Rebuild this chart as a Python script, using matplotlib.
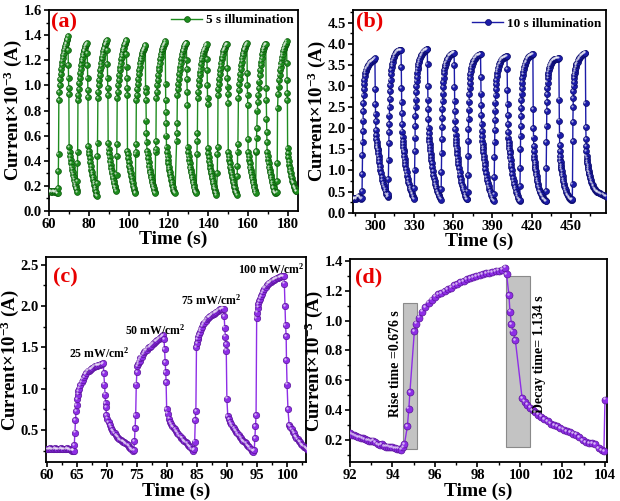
import numpy as np
import matplotlib
matplotlib.use("Agg")
from matplotlib import pyplot as plt
from matplotlib import transforms as mtransforms
from matplotlib.patches import Rectangle
from matplotlib.ticker import MultipleLocator, AutoMinorLocator

plt.rcParams['font.family'] = ['Liberation Serif', 'DejaVu Serif']
plt.rcParams['font.weight'] = 'bold'
plt.rcParams['axes.labelweight'] = 'bold'
plt.rcParams['mathtext.fontset'] = 'custom'
plt.rcParams['mathtext.rm'] = 'Liberation Serif:bold'
plt.rcParams['mathtext.bf'] = 'Liberation Serif:bold'
plt.rcParams['mathtext.it'] = 'Liberation Serif:bold:italic'

YLABEL = 'Current×10$^{-3}$ (A)'

# ---------------- (a) 5 s illumination (current in 1e-5 A units, i.e. x0.01 mA) ----
a_base_t = [60.0, 60.4, 60.8, 61.2, 61.6, 62.0, 62.4, 62.8, 63.2, 63.6, 64.0, 64.3]
a_base_i = [16, 16, 15, 16, 15, 16, 16, 15, 15, 16, 14, 14]
a_on = [64.6, 74.2, 84.2, 93.9, 103.5, 113.5, 124.1, 134.3, 144.5, 154.5, 164.0, 174.4]
# sample times inside one on/off cycle, seconds after light on
a_offs = [0.0, 0.1, 0.2, 0.35, 0.6, 0.85, 1.1, 1.35, 1.6, 1.85, 2.1, 2.35, 2.6, 2.85,
          3.1, 3.35, 3.6, 3.85, 4.1, 4.35, 4.6, 4.85, 5.0, 5.1, 5.2, 5.3, 5.4, 5.5,
          5.75, 6.0, 6.25, 6.5, 6.75, 7.0, 7.25, 7.5, 7.75, 8.0, 8.25, 8.5, 8.75,
          9.0, 9.25, 9.5, 9.75]
a_cycles = [
    [18, 32, 45, 88, 95, 100, 105, 109, 113, 116, 119, 122, 124, 126, 128, 130, 131, 133, 134, 136, 137, 139,
     128, 116, 106, 98, 93, 51, 47, 44, 41, 38, 35, 33, 31, 29, 27, 25, 23, 21, 20, 18, 17, 15, 14],
    [24, 38, 47, 88, 92, 97, 102, 106, 110, 113, 116, 119, 121, 123, 125, 127, 128, 130, 131, 132, 133, 134,
     126, 116, 106, 96, 91, 52, 48, 45, 42, 39, 36, 33, 31, 29, 27, 25, 23, 21, 19, 17, 15, 13, 12],
    [22, 44, 54, 90, 95, 100, 104, 108, 112, 115, 118, 121, 123, 125, 127, 129, 130, 132, 133, 134, 135, 136,
     128, 117, 106, 98, 92, 54, 49, 46, 43, 40, 37, 34, 32, 30, 28, 26, 24, 22, 20, 19, 17, 16, 15],
    [29, 44, 53, 90, 95, 100, 104, 108, 112, 115, 118, 121, 123, 125, 127, 129, 130, 132, 133, 134, 135, 136,
     125, 115, 106, 98, 92, 48, 45, 42, 39, 36, 34, 32, 30, 28, 26, 24, 22, 20, 18, 17, 15, 14, 13],
    [45, 47, 53, 88, 92, 97, 101, 105, 109, 112, 115, 118, 120, 122, 124, 126, 127, 128, 129, 130, 131, 132,
     98, 95, 88, 72, 62, 55, 48, 45, 42, 39, 36, 33, 31, 29, 27, 25, 23, 21, 20, 18, 17, 15, 14],
    [47, 49, 56, 90, 95, 100, 104, 108, 112, 115, 118, 121, 123, 125, 127, 129, 130, 131, 132, 133, 134, 135,
     101, 88, 79, 70, 60, 51, 47, 44, 41, 38, 35, 33, 31, 29, 27, 25, 23, 21, 19, 17, 16, 15, 14],
    [56, 62, 70, 92, 97, 101, 105, 109, 112, 115, 118, 121, 123, 125, 127, 128, 130, 131, 132, 133, 134, 134,
     120, 113, 105, 95, 84, 51, 47, 44, 41, 38, 35, 33, 31, 29, 27, 25, 23, 21, 19, 17, 16, 15, 14],
    [45, 56, 62, 90, 95, 100, 104, 108, 111, 114, 117, 120, 122, 124, 126, 127, 128, 129, 130, 131, 132, 133,
     121, 112, 100, 90, 85, 50, 46, 43, 40, 37, 34, 32, 30, 28, 26, 24, 22, 20, 18, 17, 15, 14, 13],
    [30, 45, 51, 92, 97, 101, 105, 109, 112, 115, 118, 121, 123, 125, 127, 128, 129, 130, 131, 132, 133, 133,
     114, 106, 99, 93, 86, 47, 44, 41, 38, 35, 33, 31, 29, 27, 25, 23, 21, 19, 18, 16, 15, 14, 13],
    [28, 36, 47, 53, 90, 96, 101, 105, 109, 113, 116, 119, 122, 124, 126, 128, 129, 130, 131, 132, 133, 134,
     110, 100, 92, 84, 57, 47, 44, 41, 38, 35, 33, 31, 29, 27, 25, 23, 21, 19, 17, 16, 14, 13, 12],
    [47, 48, 58, 66, 80, 87, 92, 98, 103, 108, 112, 116, 119, 122, 125, 127, 129, 130, 131, 132, 133, 133,
     98, 88, 73, 63, 55, 47, 44, 41, 38, 35, 33, 31, 29, 27, 25, 23, 21, 19, 18, 16, 15, 14, 14],
    [15, 24, 38, 82, 93, 99, 104, 108, 112, 115, 118, 121, 123, 125, 127, 129, 130, 131, 132, 133, 134, 135,
     118, 104, 94, 88, 50, 46, 43, 40, 37, 34, 32, 30, 28, 26, 24, 23, 22, 20, 19, 18, 17, 16, 16],
]

# ---------------- (b) 10 s illumination ----------------
b_base_t = [283.0, 283.5, 284.0, 284.5, 285.0, 285.5, 286.0, 286.5, 287.0, 287.5, 288.0, 288.5, 289.0, 289.5]
b_base_i = [33, 33, 34, 33, 34, 33, 35, 36, 38, 40, 38, 36, 34, 33]
b_on = [290.0, 310.0, 330.1, 350.6, 370.9, 391.1, 411.0, 430.9, 451.2]
b_offs = [0.0, 0.15, 0.3, 0.45, 0.6, 0.75, 0.9, 1.05, 1.2, 1.4, 1.6, 1.8, 2.0, 2.3, 2.6, 2.9,
          3.2, 3.6, 4.0, 4.5, 5.0, 5.5, 6.0, 6.5, 7.0, 7.5, 8.0, 8.5, 9.0, 9.5, 10.0,
          10.2, 10.35, 10.5, 10.65, 10.8, 11.0, 11.2, 11.4, 11.6, 11.8, 12.0, 12.2, 12.5, 12.8,
          13.1, 13.4, 13.8, 14.2, 14.7, 15.2, 15.7, 16.2, 16.7, 17.2, 17.7, 18.2, 18.7, 19.2, 19.7]
b_cycles = [
    [35, 52, 91, 137, 168, 193, 218, 240, 260, 278, 292, 304, 314, 324, 330, 335, 339, 342, 345, 348,
     350, 352, 354, 356, 357, 359, 360, 361, 362, 364, 366,
     293, 258, 233, 217, 195, 184, 175, 167, 161, 156, 152, 148, 141, 134, 127, 120, 111, 102, 93, 85,
     78, 71, 65, 60, 55, 50, 45, 41, 37],
    [40, 45, 80, 125, 165, 190, 210, 230, 250, 270, 288, 302, 315, 328, 338, 346, 352, 358, 363, 368,
     372, 375, 378, 380, 382, 383, 384, 385, 386, 386, 386,
     345, 295, 262, 235, 210, 192, 180, 170, 162, 155, 149, 143, 135, 127, 120, 113, 104, 96, 88, 80,
     73, 67, 61, 56, 51, 47, 43, 39, 35],
    [33, 58, 100, 145, 178, 205, 228, 250, 268, 285, 300, 312, 322, 332, 340, 346, 351, 356, 361, 366,
     370, 373, 376, 379, 381, 383, 384, 385, 386, 387, 387,
     352, 300, 268, 245, 222, 200, 188, 178, 170, 162, 155, 149, 140, 132, 124, 117, 108, 99, 90, 82,
     75, 68, 62, 57, 52, 47, 43, 39, 34],
    [31, 55, 97, 142, 175, 202, 225, 246, 265, 282, 297, 309, 320, 330, 338, 344, 349, 353, 357, 361,
     364, 367, 370, 372, 374, 375, 376, 377, 378, 379, 379,
     350, 297, 264, 240, 218, 198, 185, 175, 167, 160, 153, 147, 138, 130, 122, 115, 106, 97, 88, 80,
     73, 66, 60, 55, 50, 45, 40, 36, 32],
    [32, 50, 90, 135, 170, 198, 222, 244, 263, 280, 295, 307, 318, 328, 336, 342, 347, 351, 355, 359,
     362, 365, 367, 369, 371, 372, 373, 374, 374, 375, 375,
     322, 282, 255, 232, 210, 193, 181, 171, 163, 156, 150, 144, 135, 127, 119, 112, 103, 94, 85, 77,
     70, 63, 57, 51, 46, 41, 37, 33, 30],
    [28, 45, 85, 132, 168, 196, 220, 242, 261, 278, 292, 304, 315, 324, 332, 338, 343, 347, 351, 355,
     358, 361, 363, 365, 366, 367, 368, 369, 369, 370, 370,
     340, 290, 258, 232, 210, 190, 178, 168, 160, 153, 147, 141, 132, 124, 116, 109, 100, 91, 82, 74,
     67, 61, 55, 49, 44, 39, 35, 31, 28],
    [30, 63, 105, 150, 182, 206, 228, 248, 266, 282, 296, 308, 318, 327, 334, 340, 345, 349, 353, 357,
     360, 363, 366, 368, 370, 371, 372, 373, 374, 375, 375,
     245, 200, 178, 158, 145, 135, 127, 120, 114, 108, 103, 98, 92, 86, 80, 75, 69, 63, 57, 52,
     48, 44, 41, 38, 35, 33, 31, 29, 27],
    [27, 52, 105, 168, 205, 240, 262, 280, 295, 308, 318, 326, 332, 338, 342, 346, 349, 352, 355, 357,
     359, 361, 362, 363, 364, 364, 365, 365, 365, 366, 366,
     268, 218, 185, 160, 145, 134, 126, 119, 113, 108, 103, 98, 92, 86, 80, 75, 69, 63, 58, 53,
     49, 45, 42, 39, 36, 34, 32, 31, 30],
    [32, 68, 170, 215, 250, 272, 288, 300, 310, 318, 325, 331, 336, 341, 345, 349, 352, 355, 358, 361,
     364, 366, 368, 370, 372, 374, 375, 376, 377, 378, 379,
     259, 202, 175, 157, 145, 135, 128, 122, 117, 112, 108, 104, 99, 95, 91, 87, 82, 78, 73, 69,
     65, 62, 59, 56, 54, 52, 50, 49, 48],
]
b_tail_t = [471.5, 472.5, 473.5, 474.5, 475.5, 476.5, 477.5]
b_tail_i = [47, 46, 44, 43, 41, 40, 38]

# ---------------- (c) intensity dependence ----------------
c_base_t = [60.0, 60.2, 60.4, 60.6, 60.8, 61.0, 61.2, 61.4, 61.6, 61.8, 62.0, 62.2, 62.4,
            62.6, 62.8, 63.0, 63.2, 63.4, 63.6, 63.8, 64.0, 64.2, 64.4]
c_base_i = [27, 27, 27, 28, 27, 27, 27, 28, 27, 27, 27, 27, 28, 27, 27, 27, 27, 28, 27, 27, 26, 25, 25]
c_on = [64.5, 74.5, 84.5, 94.5]
c_off = [69.5, 79.5, 89.5, 99.5]
c_rise_offs = [0.0, 0.1, 0.2, 0.3, 0.4, 0.5, 0.6, 0.7, 0.8, 0.95, 1.1, 1.3, 1.5, 1.7, 1.9, 2.1,
               2.3, 2.5, 2.7, 2.9, 3.1, 3.3, 3.5, 3.7, 3.9, 4.1, 4.3, 4.5, 4.7, 4.9]
c_fall_offs = [0.0, 0.1, 0.2, 0.3, 0.35, 0.45, 0.6, 0.8, 1.0, 1.2, 1.4, 1.6, 1.8, 2.0, 2.2,
               2.4, 2.6, 2.8, 3.0, 3.2, 3.4, 3.6, 3.8, 4.0, 4.2, 4.4, 4.6, 4.8, 5.0]
c_rise = [
    [25, 32, 47, 62, 73, 80, 87, 93, 97, 100, 104, 108, 111, 114, 117, 119, 121, 122, 123, 124,
     125, 126, 127, 128, 128, 129, 129, 130, 130, 131],
    [26, 37, 52, 68, 105, 120, 127, 130, 132, 134, 137, 139, 142, 144, 146, 147, 149, 150, 151, 152,
     154, 155, 157, 158, 159, 160, 161, 162, 164, 165],
    [27, 36, 62, 73, 150, 155, 160, 163, 166, 169, 172, 175, 178, 180, 182, 184, 186, 187, 188, 189,
     190, 191, 192, 193, 194, 195, 196, 196, 197, 197],
    [26, 40, 55, 68, 185, 192, 198, 202, 206, 209, 212, 215, 218, 221, 223, 225, 227, 228, 229, 230,
     231, 232, 233, 234, 234, 235, 235, 236, 236, 236],
]
c_fall = [
    [119, 105, 93, 83, 78, 68, 64, 60, 56, 53, 50, 48, 46, 44, 42, 41, 39, 38, 37, 36, 35, 34, 33,
     32, 30, 28, 27, 25, 25],
    [160, 148, 132, 120, 108, 75, 70, 64, 60, 57, 55, 53, 51, 49, 47, 45, 43, 41, 40, 38, 37, 35, 34,
     32, 31, 29, 27, 25, 24],
    [188, 174, 163, 154, 146, 88, 67, 63, 60, 57, 54, 52, 50, 48, 46, 44, 42, 40, 38, 37, 35, 34, 32,
     31, 29, 27, 25, 24, 23],
    [227, 200, 177, 164, 135, 105, 75, 56, 54, 51, 48, 46, 43, 41, 39, 37, 35, 33, 32, 30, 29, 28, 27,
     26, 25, 25, 24, 24, 23],
]
c_labels = ['25 mW/cm$^{2}$', '50 mW/cm$^{2}$', '75 mW/cm$^{2}$', '100 mW/cm$^{2}$']
c_label_t = [68.8, 78.1, 87.4, 97.3]
c_label_i = [1.43, 1.71, 2.07, 2.44]

# ---------------- (d) rise / decay of one pulse ----------------
d_time = [92.0, 92.1, 92.2, 92.3, 92.4, 92.5, 92.6, 92.7, 92.8, 92.9, 93.0, 93.1, 93.2, 93.3,
          93.4, 93.5, 93.6, 93.7, 93.8, 93.9, 94.0, 94.1, 94.2, 94.3, 94.4,
          94.5, 94.56, 94.7, 94.77, 94.82, 95.03, 95.13,
          95.25, 95.4, 95.55, 95.7, 95.85, 96.0, 96.15, 96.3, 96.45, 96.6, 96.75, 96.9, 97.05,
          97.2, 97.35, 97.5, 97.65, 97.8, 97.95, 98.1, 98.25, 98.4, 98.55, 98.7, 98.85, 99.0,
          99.15, 99.3,
          99.37, 99.48, 99.53, 99.6, 99.66, 99.78,
          100.1, 100.22, 100.35, 100.48, 100.6, 100.72, 100.85, 101.0, 101.15, 101.3, 101.45,
          101.6, 101.75, 101.9, 102.05, 102.2, 102.35, 102.5, 102.65, 102.8, 102.95, 103.1,
          103.25, 103.4, 103.55, 103.7, 103.85, 103.95, 104.0]
d_curr = [0.245, 0.235, 0.23, 0.225, 0.22, 0.215, 0.21, 0.205, 0.20, 0.195, 0.19, 0.195, 0.185,
          0.17, 0.165, 0.17, 0.16, 0.155, 0.155, 0.15, 0.15, 0.145, 0.14, 0.14, 0.135,
          0.15, 0.17, 0.29, 0.41, 0.52, 0.93, 0.98,
          1.02, 1.06, 1.09, 1.12, 1.14, 1.16, 1.175, 1.185, 1.195, 1.21, 1.22, 1.235, 1.245,
          1.255, 1.265, 1.275, 1.285, 1.29, 1.295, 1.305, 1.31, 1.315, 1.32, 1.325, 1.33, 1.335,
          1.34, 1.355,
          1.31, 1.17, 1.06, 0.975, 0.925, 0.87,
          0.48, 0.455, 0.435, 0.415, 0.40, 0.385, 0.37, 0.355, 0.34, 0.325, 0.31,
          0.30, 0.29, 0.28, 0.268, 0.258, 0.25, 0.242, 0.235, 0.22, 0.20, 0.185,
          0.18, 0.178, 0.17, 0.145, 0.13, 0.125, 0.47]
rise_window = (94.5, 0.14, 0.676, 0.98)     # t0, I0, width (s), height
decay_window = (99.35, 0.155, 1.134, 1.145)


def cycles_to_series(base_t, base_i, starts, offsets, cycles):
    t, cur = list(base_t), list(base_i)
    for k, (t0, vals) in enumerate(zip(starts, cycles)):
        nxt = starts[k + 1] if k + 1 < len(starts) else np.inf
        for dt, v in zip(offsets, vals):
            if t0 + dt < nxt:
                t.append(t0 + dt)
                cur.append(v)
    return np.array(t), np.array(cur) / 100.0


def pulses_to_series():
    t, cur = list(c_base_t), list(c_base_i)
    for k in range(len(c_on)):
        nxt = c_on[k + 1] if k + 1 < len(c_on) else np.inf
        for dt, v in zip(c_rise_offs, c_rise[k]):
            t.append(c_on[k] + dt)
            cur.append(v)
        for dt, v in zip(c_fall_offs, c_fall[k]):
            if c_off[k] + dt < nxt:
                t.append(c_off[k] + dt)
                cur.append(v)
    return np.array(t), np.array(cur) / 100.0


fig = plt.figure(figsize=(6.2, 5.01), dpi=100)
ax_a = fig.add_axes([0.0790, 0.5788, 0.4016, 0.4012])
ax_b = fig.add_axes([0.5689, 0.5754, 0.4085, 0.4046])
ax_c = fig.add_axes([0.0737, 0.0772, 0.4194, 0.4092])
ax_d = fig.add_axes([0.5645, 0.0772, 0.4140, 0.4052])


def draw(ax, t, cur, face, edge, ms, label=None):
    ax.plot(t, cur, color=face, lw=1.0, marker='o', ms=ms, mfc=face, mec=edge,
            mew=0.5, label=label, zorder=3)
    shine = mtransforms.offset_copy(ax.transData, fig=fig, x=-ms * 0.2, y=ms * 0.2, units='points')
    ax.plot(t, cur, ls='none', marker='o', ms=ms * 0.36, mfc='white', mec='none',
            alpha=0.65, transform=shine, zorder=4)


def style(ax, xlim, ylim, xstep, ystep, tag, tag_xy):
    ax.set_xlim(*xlim)
    ax.set_ylim(*ylim)
    ax.xaxis.set_major_locator(MultipleLocator(xstep))
    ax.yaxis.set_major_locator(MultipleLocator(ystep))
    ax.xaxis.set_minor_locator(AutoMinorLocator(2))
    ax.yaxis.set_minor_locator(AutoMinorLocator(2))
    ax.tick_params(which='major', direction='out', length=3.5, width=1.2, labelsize=10.5, pad=1.5)
    ax.tick_params(which='minor', direction='out', length=2.0, width=1.0)
    for sp in ax.spines.values():
        sp.set_linewidth(1.3)
    ax.set_xlabel('Time (s)', fontsize=14, labelpad=0)
    ax.set_ylabel(YLABEL, fontsize=13.5, labelpad=-0.5)
    ax.text(tag_xy[0], tag_xy[1], tag, transform=ax.transAxes, color='#e80000',
            fontsize=16, ha='left', va='center', zorder=6)


# (a)
t, cur = cycles_to_series(a_base_t, a_base_i, a_on, a_offs, a_cycles)
draw(ax_a, t, cur, '#1e8c1e', '#0b5a0b', 4.2, label='5 s illumination')
style(ax_a, (60, 185), (0, 1.6), 20, 0.2, '(a)', (0.008, 0.94))
ax_a.legend(loc='center right', bbox_to_anchor=(0.984, 0.950), frameon=False, fontsize=9.5,
            handlelength=2.35, handletextpad=0.3, borderpad=0, borderaxespad=0, numpoints=1)

# (b)
t, cur = cycles_to_series(b_base_t, b_base_i, b_on, b_offs, b_cycles)
t = np.concatenate([t, b_tail_t])
cur = np.concatenate([cur, np.array(b_tail_i) / 100.0])
draw(ax_b, t, cur, '#1c1ca8', '#0a0a6a', 4.3, label='10 s illumination')
style(ax_b, (283, 477), (0, 4.8), 30, 0.5, '(b)', (0.013, 0.941))
ax_b.legend(loc='center right', bbox_to_anchor=(0.982, 0.934), frameon=False, fontsize=9.5,
            handlelength=2.35, handletextpad=0.3, borderpad=0, borderaxespad=0, numpoints=1)

# (c)
t, cur = pulses_to_series()
draw(ax_c, t, cur, '#8e2ee6', '#5a1499', 4.6)
style(ax_c, (59.85, 103.05), (0.11, 2.59), 5, 0.5, '(c)', (0.029, 0.90))
for txt, x, y in zip(c_labels, c_label_t, c_label_i):
    ax_c.text(x, y, txt, ha='center', va='center', fontsize=8.5)

# (d)
draw(ax_d, d_time, d_curr, '#8e2ee6', '#5a1499', 5.0)
for (x0, y0, w, h) in (rise_window, decay_window):
    ax_d.add_patch(Rectangle((x0, y0), w, h, facecolor='#c3c3c3', edgecolor='#8a8a8a',
                             lw=0.8, zorder=1))
style(ax_d, (92, 104.08), (0.05, 1.41), 2, 0.2, '(d)', (0.019, 0.91))
ax_d.text(94.12, 0.714, 'Rise time =0.676 s', rotation=90, ha='center', va='center', fontsize=10)
ax_d.text(100.94, 0.777, 'Decay time= 1.134 s', rotation=90, ha='center', va='center', fontsize=10)

fig.savefig('out.png', dpi=100)
